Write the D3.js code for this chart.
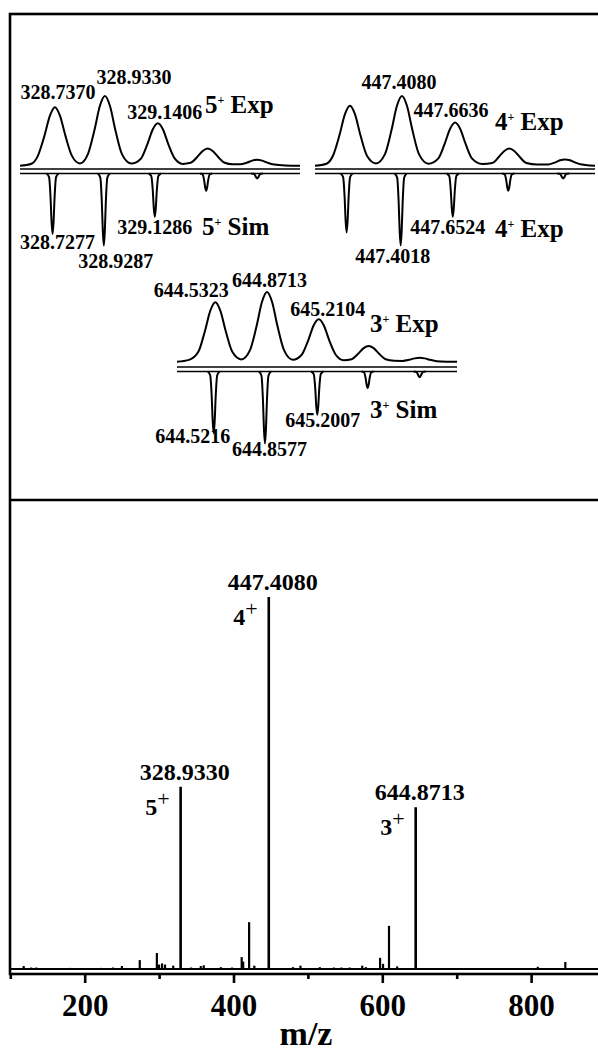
<!DOCTYPE html>
<html>
<head>
<meta charset="utf-8">
<script src="https://cdnjs.cloudflare.com/ajax/libs/d3/7.8.5/d3.min.js"></script>
<style>
  body { margin: 0; background: #fff; }
  svg { display: block; font-family: "Liberation Serif", "Times New Roman", serif; font-weight: bold; }
</style>
</head>
<body>
<div id="chart"></div>
<script>
// ---- full scan: m/z and relative intensity (%)
const mainPeaks = [[328.9330, 49], [447.4080, 100], [644.8713, 43.5]];
const mainCharges = ['5', '4', '3'];
const minorPeaks = [
  [118, 0.8], [128, 0.4], [135, 0.4], [180, 0.3], [222, 0.3], [238, 0.4], [250, 0.8],
  [274, 2.4], [297, 4.3], [300, 1.2], [304, 1.5], [308, 1.2], [319, 0.9], [343, 0.4],
  [356, 0.8], [360, 1.0], [383, 0.5], [398, 0.4], [411, 3.2], [413, 2.0], [421, 12.6],
  [428, 0.9], [480, 0.5], [490, 0.9], [516, 0.5], [535, 0.4], [545, 0.4], [556, 0.4],
  [573, 0.9], [578, 0.5], [597, 3.0], [601, 1.4], [609, 11.6], [620, 0.7], [700, 0.2],
  [809, 0.6], [846, 1.9]
];
const majorTicks = [200, 400, 600, 800];
const minorTicks = [100, 300, 500, 700, 900];

// ---- isotope envelopes (experimental profile points, m/z vs %)
const exp5 = [
  [328.600, 0.3], [328.645, 3.2],
  [328.670, 14.5], [328.6958, 43], [328.7174, 72], [328.737, 84], [328.7566, 72], [328.7782, 43], [328.8037, 14.5],
  [328.835, 3.7],
  [328.8663, 17], [328.8918, 51], [328.9134, 86], [328.933, 100], [328.9526, 86], [328.9742, 51], [328.9997, 17],
  [329.037, 3.5],
  [329.0739, 10.4], [329.0994, 31], [329.121, 52.5], [329.1406, 61], [329.1602, 52.5], [329.1818, 31], [329.2073, 10.4],
  [329.238, 3],
  [329.2693, 4.6], [329.2948, 12.8], [329.3164, 21.5], [329.336, 25], [329.3556, 21.5], [329.3772, 12.8], [329.4027, 4.6],
  [329.433, 2.5],
  [329.4633, 2.5], [329.4888, 4.6], [329.5104, 7.7], [329.530, 9], [329.5496, 7.7], [329.5712, 4.6], [329.5967, 2],
  [329.640, 0.6], [329.698, 0.2]
];
const sim5 = [[328.7277, 84], [328.9287, 100], [329.1286, 60], [329.330, 24], [329.530, 7]];
const exp5Labels = [328.7370, 328.9330, 329.1406];
const sim5Labels = [328.7277, 328.9287, 329.1286];

const exp4 = [
  [446.990, 0.3], [447.045, 3.2],
  [447.0763, 14.6], [447.1075, 43.9], [447.134, 74], [447.158, 86], [447.182, 74], [447.2085, 43.9], [447.2397, 14.6],
  [447.283, 3.7],
  [447.3263, 17], [447.3575, 51], [447.384, 86], [447.408, 100], [447.432, 86], [447.4585, 51], [447.4897, 17],
  [447.536, 3.3],
  [447.5819, 10.5], [447.6131, 31.6], [447.6396, 53.3], [447.6636, 62], [447.6876, 53.3], [447.7141, 31.6], [447.7453, 10.5],
  [447.794, 2.8],
  [447.8423, 4.3], [447.8735, 12.8], [447.900, 21.5], [447.924, 25], [447.948, 21.5], [447.9745, 12.8], [448.0057, 4.3],
  [448.058, 2.2],
  [448.1103, 2.2], [448.1415, 4.8], [448.168, 8.1], [448.192, 9.4], [448.216, 8.1], [448.2425, 4.8], [448.2737, 2],
  [448.310, 0.6], [448.336, 0.3]
];
const sim4 = [[447.142, 82], [447.4018, 100], [447.6524, 60], [447.919, 24], [448.183, 7]];
const exp4Labels = [447.4080, 447.6636];
const sim4Labels = [447.4018, 447.6524];

const exp3 = [
  [644.281, 0.3], [644.360, 3],
  [644.4208, 14.5], [644.4634, 43.6], [644.4995, 73.4], [644.5323, 85.4], [644.5651, 73.4], [644.6012, 43.6], [644.6438, 14.5],
  [644.702, 3.7],
  [644.7598, 17], [644.8024, 51], [644.8385, 86], [644.8713, 100], [644.9041, 86], [644.9402, 51], [644.9828, 17],
  [645.041, 3.2],
  [645.0989, 10.4], [645.1415, 31], [645.1776, 52.5], [645.2104, 61], [645.2432, 52.5], [645.2793, 31], [645.3219, 10.4],
  [645.374, 2.6],
  [645.426, 3.9], [645.4686, 11.7], [645.5047, 19.8], [645.5375, 23], [645.5703, 19.8], [645.6064, 11.7], [645.649, 3.9],
  [645.705, 1.8],
  [645.7605, 1.6], [645.8031, 3.1], [645.8392, 5.2], [645.872, 6], [645.9048, 5.2], [645.9409, 3.1], [645.9835, 1.2],
  [646.050, 0.4], [646.117, 0.2]
];
const sim3 = [[644.5216, 86], [644.8577, 100], [645.2007, 60], [645.531, 23], [645.872, 8]];
const exp3Labels = [644.5323, 644.8713, 645.2104];
const sim3Labels = [644.5216, 644.8577, 645.2007];

// ---- layout
const W = 598, H = 1057;
const fmt4 = d3.format('.4f');

const insets = [
  { exp: exp5, sim: sim5, expLabels: exp5Labels, simLabels: sim5Labels,
    range: [20, 300], base: 166, line1: 169, line2: 173.5,
    expOff: [[3, -8], [29, -12], [7, -4]], simOff: [[5, 15], [12, 22], [0, 17]],
    charge: '5', tags: [['Exp', 205, 113], ['Sim', 202, 235]] },
  { exp: exp4, sim: sim4, expLabels: exp4Labels, simLabels: sim4Labels,
    range: [315, 595], base: 166, line1: 169, line2: 173.5,
    expOff: [[-3, -7], [-4, -6]], simOff: [[-8, 17], [-5, 17]],
    charge: '4', tags: [['Exp', 495, 130], ['Exp', 495, 237]] },
  { exp: exp3, sim: sim3, expLabels: exp3Labels, simLabels: sim3Labels,
    range: [177, 457], base: 362, line1: 367, line2: 371.5,
    expOff: [[-24, -5], [2.5, -5], [9, -3]], simOff: [[-21, 10], [4.5, 12], [5.5, 12]],
    charge: '3', tags: [['Exp', 370, 332], ['Sim', 370, 418]] }
];

const svg = d3.select('#chart').append('svg')
    .attr('width', W)
    .attr('height', H);

// outer frame + divider
svg.append('rect')
    .attr('x', 10).attr('y', 14)
    .attr('width', 620).attr('height', 960)
    .attr('fill', 'none')
    .attr('stroke', '#000')
    .attr('stroke-width', 2.6);
svg.append('line')
    .attr('x1', 10).attr('x2', 630)
    .attr('y1', 500).attr('y2', 500)
    .attr('stroke', '#000')
    .attr('stroke-width', 2.6);

// ---- bottom panel: full scan
const x = d3.scaleLinear().domain([100, 900]).range([10.3, 605.5]);
const y = d3.scaleLinear().domain([-1.34, 126.1]).range([974, 500]);

const plot = svg.append('g');

plot.append('line')
    .attr('x1', x(100)).attr('x2', x(900))
    .attr('y1', y(0)).attr('y2', y(0))
    .attr('stroke', '#000')
    .attr('stroke-width', 2);

plot.selectAll('.minor-peak')
    .data(minorPeaks)
    .enter().append('line')
    .attr('class', 'minor-peak')
    .attr('x1', d => x(d[0])).attr('x2', d => x(d[0]))
    .attr('y1', y(0)).attr('y2', d => y(d[1]))
    .attr('stroke', '#000')
    .attr('stroke-width', 2.2);

plot.selectAll('.main-peak')
    .data(mainPeaks)
    .enter().append('line')
    .attr('class', 'main-peak')
    .attr('x1', d => x(d[0])).attr('x2', d => x(d[0]))
    .attr('y1', y(0)).attr('y2', d => y(d[1]))
    .attr('stroke', '#000')
    .attr('stroke-width', 2.6);

// peak labels
plot.selectAll('.mz-label')
    .data(mainPeaks)
    .enter().append('text')
    .attr('class', 'mz-label')
    .attr('x', d => x(d[0]) + 4)
    .attr('y', d => y(d[1]) - 7)
    .attr('text-anchor', 'middle')
    .attr('font-size', 24)
    .text(d => fmt4(d[0]));

mainPeaks.forEach((d, i) => {
    const t = plot.append('text')
        .attr('x', x(d[0]) - 11)
        .attr('y', y(d[1]) + 28)
        .attr('text-anchor', 'end')
        .attr('font-size', 24);
    t.append('tspan').text(mainCharges[i]);
    t.append('tspan')
        .attr('font-weight', 'normal')
        .attr('font-size', 22)
        .attr('dy', -9)
        .text('+');
});

// axis
const axisG = svg.append('g').attr('transform', 'translate(0,974)');
axisG.append('g')
    .call(d3.axisBottom(x).tickValues(minorTicks).tickSize(5).tickFormat(''));
axisG.append('g')
    .call(d3.axisBottom(x).tickValues(majorTicks).tickSize(9).tickFormat(d3.format('d')));
axisG.selectAll('.domain').remove();
axisG.selectAll('.tick line')
    .attr('stroke', '#000')
    .attr('stroke-width', 2.6);
axisG.selectAll('.tick text')
    .attr('y', 20)
    .attr('fill', '#000')
    .attr('font-size', 31)
    .attr('font-family', '"Liberation Serif", serif')
    .attr('font-weight', 'bold');

svg.append('text')
    .attr('x', 306)
    .attr('y', 1045)
    .attr('text-anchor', 'middle')
    .attr('font-size', 34)
    .text('m/z');

// ---- top panel: isotope insets
const simShape = [[-6, 0], [-3.5, 0.06], [-2, 0.4], [-1, 0.8], [0, 1], [1, 0.8], [2, 0.4], [3.5, 0.06], [6, 0]];

insets.forEach(ins => {
    const g = svg.append('g');
    const xs = d3.scaleLinear().domain(d3.extent(ins.exp, d => d[0])).range(ins.range);
    const ye = d3.scaleLinear().domain([0, 100]).range([ins.base, ins.base - 70]);
    const ys = d3.scaleLinear().domain([0, 100]).range([ins.line2, ins.line2 + 72]);

    // experimental profile
    const line = d3.line()
        .x(d => xs(d[0]))
        .y(d => ye(d[1]))
        .curve(d3.curveMonotoneX);
    g.append('path')
        .datum(ins.exp)
        .attr('d', line)
        .attr('fill', 'none')
        .attr('stroke', '#000')
        .attr('stroke-width', 2);

    // double separator
    [ins.line1, ins.line2].forEach(ly => {
        g.append('line')
            .attr('x1', ins.range[0]).attr('x2', ins.range[1])
            .attr('y1', ly).attr('y2', ly)
            .attr('stroke', '#000')
            .attr('stroke-width', 1.7);
    });

    // simulated sticks
    ins.sim.forEach(d => {
        const sl = d3.line()
            .x(p => xs(d[0]) + p[0])
            .y(p => ys(d[1] * p[1]))
            .curve(d3.curveMonotoneX);
        g.append('path')
            .attr('d', sl(simShape))
            .attr('fill', 'none')
            .attr('stroke', '#000')
            .attr('stroke-width', 2);
    });

    // m/z labels
    ins.expLabels.forEach((m, i) => {
        const pt = d3.least(ins.exp, d => Math.abs(d[0] - m));
        g.append('text')
            .attr('x', xs(m) + ins.expOff[i][0])
            .attr('y', ye(pt[1]) + ins.expOff[i][1])
            .attr('text-anchor', 'middle')
            .attr('font-size', 20)
            .text(fmt4(m));
    });
    ins.simLabels.forEach((m, i) => {
        const pt = d3.least(ins.sim, d => Math.abs(d[0] - m));
        g.append('text')
            .attr('x', xs(m) + ins.simOff[i][0])
            .attr('y', ys(pt[1]) + ins.simOff[i][1])
            .attr('text-anchor', 'middle')
            .attr('font-size', 20)
            .text(fmt4(m));
    });

    // charge tags
    ins.tags.forEach(tag => {
        const t = g.append('text')
            .attr('x', tag[1])
            .attr('y', tag[2])
            .attr('font-size', 25);
        t.append('tspan').text(ins.charge);
        t.append('tspan').attr('font-size', 12).attr('dy', -9.5).text('+');
        t.append('tspan').attr('dy', 9.5).text(' ' + tag[0]);
    });
});
</script>
</body>
</html>
